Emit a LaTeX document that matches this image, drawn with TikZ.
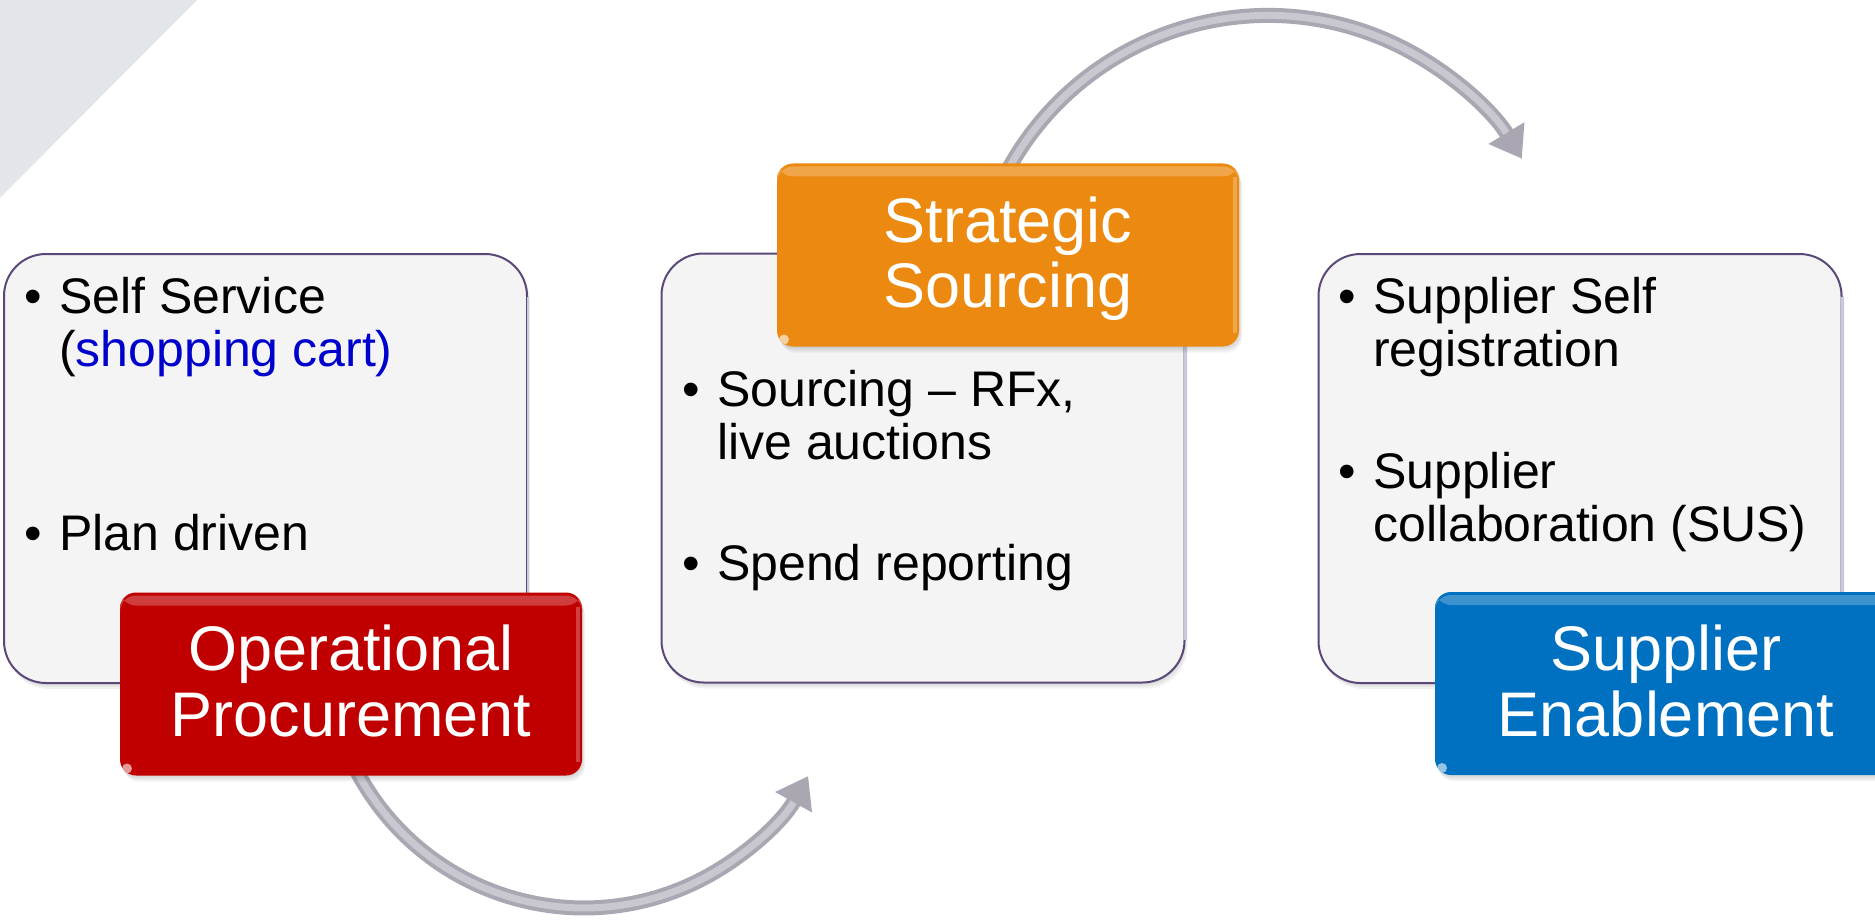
\documentclass[tikz,border=0pt]{standalone}
\usepackage{fontspec}
\setmainfont{Liberation Sans}
\usetikzlibrary{arrows.meta,calc}

\definecolor{tri}{HTML}{E2E6EA}
\definecolor{panel}{HTML}{F4F4F4}
\definecolor{panelrim}{HTML}{5B4878}
\definecolor{panelrimlight}{HTML}{CEC6DC}
\definecolor{opred}{HTML}{C00000}
\definecolor{ssorange}{HTML}{EB8910}
\definecolor{seblue}{HTML}{0070C0}
\definecolor{linkblue}{HTML}{0000CC}
\definecolor{tube}{HTML}{AAA7B3}
\definecolor{tubelight}{HTML}{C9C7D0}

\pgfdeclarelayer{back}
\pgfsetlayers{back,main}

% bullet item: two lines / one line
\newcommand\pbul{\makebox[52pt]{•}}
\newcommand\pitem[2]{\begin{tabular}[t]{@{}l@{}l@{}}\pbul & #1\\ & #2\end{tabular}}
\newcommand\pline[1]{\begin{tabular}[t]{@{}l@{}l@{}}\pbul & #1\end{tabular}}
\newcommand\ptitle[2]{\begin{tabular}[t]{@{}c@{}}#1\\#2\end{tabular}}

\tikzset{
  softshadow/.style={
    preaction={fill=black,fill opacity=0.05,transform canvas={xshift=1pt,yshift=-2pt}},
    preaction={fill=black,fill opacity=0.05,transform canvas={xshift=2pt,yshift=-4pt}},
    preaction={fill=black,fill opacity=0.05,transform canvas={xshift=3pt,yshift=-6pt}}},
  panelbox/.style={rectangle, rounded corners=42pt, fill=panel, draw=panelrim,
    line width=2pt, minimum width=523pt, minimum height=429pt, inner sep=0pt, softshadow},
  glossbox/.style={rectangle, rounded corners=16pt, fill=#1, minimum width=462pt,
    minimum height=183pt, inner sep=0pt, softshadow,
    path picture={
      \shade[top color=#1!75!white, bottom color=#1]
        ([yshift=-3pt]path picture bounding box.north west) rectangle
        ([yshift=-13pt]path picture bounding box.north east);
      \draw[white, opacity=0.25, line width=4pt]
        ([xshift=-4pt,yshift=-14pt]path picture bounding box.north east) --
        ([xshift=-4pt,yshift=14pt]path picture bounding box.south east);
      \fill[white, opacity=0.6]
        ([xshift=7pt,yshift=7pt]path picture bounding box.south west) circle[radius=5pt];
    }},
  itemtext/.style={inner sep=0pt, anchor=base west, font=\fontsize{50}{53}\selectfont},
  titletext/.style={inner sep=0pt, anchor=base, text=white, font=\fontsize{63}{66}\selectfont},
  tubearrow/.style={draw=tube, line width=15pt, -{Triangle[length=30pt,width=40pt]}},
  tubeshine/.style={draw=tubelight, line width=7pt, shorten >=30pt}
}

\begin{document}
\begin{tikzpicture}[x=1pt,y=-1pt]
\useasboundingbox (0,0) rectangle (1875,923);
\clip (0,0) rectangle (1875,923);

% content panels
\node[panelbox] (pl) at (265.5,468.5) {};
\node[panelbox] (pm) at (923,468) {};
\node[panelbox] (pr) at (1580,468.5) {};
\foreach \p in {pl,pm,pr}
  \draw[panelrimlight, line width=2.5pt]
    ($(\p.north east)+(0,44)$) -- ($(\p.south east)+(0,-44)$);

% coloured headers
\node[glossbox=opred] (op) at (351,684) {};
\node[glossbox=ssorange] (ss) at (1008,255) {};
\node[glossbox=seblue] (se) at (1666,683.5) {};

\node[titletext] (optitle) at (351,670) {\ptitle{Operational}{Procurement}};
\node[titletext] (sstitle) at (1008,242) {\ptitle{Strategic}{Sourcing}};
\node[titletext] (setitle) at (1666,670) {\ptitle{Supplier}{Enablement}};

% bullet lists
\node[itemtext] (l1) at (7,313) {\pitem{Self Service}{(\textcolor{linkblue}{shopping cart)}}};
\node[itemtext] (l2) at (7,550) {\pline{Plan driven}};
\node[itemtext] (m1) at (665,406) {\pitem{Sourcing – RFx,}{live auctions}};
\node[itemtext] (m2) at (665,580) {\pline{Spend reporting}};
\node[itemtext] (r1) at (1321,313) {\pitem{Supplier Self}{registration}};
\node[itemtext] (r2) at (1321,488) {\pitem{Supplier}{collaboration (SUS)}};

\begin{pgfonlayer}{back}
  \fill[tri] (0,0) -- (197,0) -- (0,198) -- cycle;
  \coordinate (a1s) at ($(op.south)+(4,-8)$);
  \coordinate (a2s) at ($(ss.north)+(-4,14)$);
  \draw[tubearrow] (a1s) arc[start angle=153, end angle=29.1, radius=256.8];
  \draw[tubeshine] (a1s) arc[start angle=153, end angle=29.1, radius=256.8];
  \draw[tubearrow] (a2s) arc[start angle=207, end angle=328.9, radius=296.4];
  \draw[tubeshine] (a2s) arc[start angle=207, end angle=328.9, radius=296.4];
\end{pgfonlayer}
\end{tikzpicture}
\end{document}
